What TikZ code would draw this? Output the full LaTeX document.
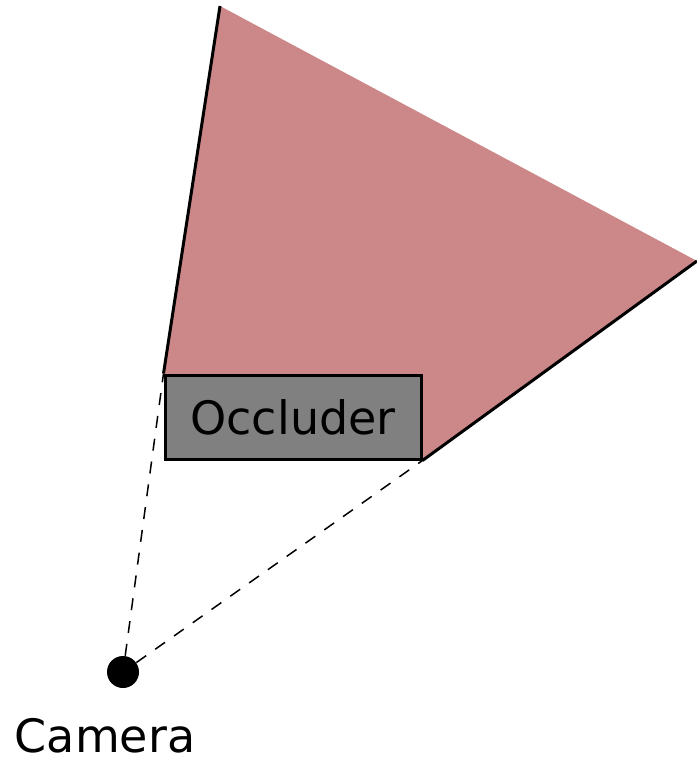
\documentclass[tikz,border=0pt]{standalone}
\usepackage{fontspec}
\setmainfont{DejaVu Sans}
\usepackage{xcolor}
\usetikzlibrary{positioning}
\definecolor{shadowred}{RGB}{204,136,136}
\definecolor{occgray}{RGB}{128,128,128}

\begin{document}
\begin{tikzpicture}[
    x=0.5pt, y=-0.5pt,
    font=\fontsize{23}{28}\selectfont,
    occbox/.style={rectangle, draw, fill=occgray, line width=1.5pt, minimum width=128pt, minimum height=42pt, inner sep=0pt},
    camdot/.style={circle, fill=black, minimum size=16pt, inner sep=0pt},
    edge/.style={line width=1.5pt},
    ray/.style={line width=0.75pt, dash pattern=on 6pt off 5.5pt}
]
\useasboundingbox (0,0) rectangle (696,765);

\coordinate (apex) at (220,6);
\coordinate (tip) at (697,261);

\node (occ) [occbox] at (293,417) {};
\node (cam) [camdot] at (123,672) {};
\node (camlabel) [anchor=base] at (105,752) {Camera};

\fill[shadowred] (occ.north west) -- (apex) -- (tip) -- (occ.south east) -- cycle;
\draw[edge] (occ.north west) -- (apex);
\draw[edge] (tip) -- (occ.south east);

\draw[ray] (cam) -- (occ.north west);
\draw[ray] (cam) -- (occ.south east);

\node (occ) [occbox] at (293,417) {Occluder};
\end{tikzpicture}
\end{document}
